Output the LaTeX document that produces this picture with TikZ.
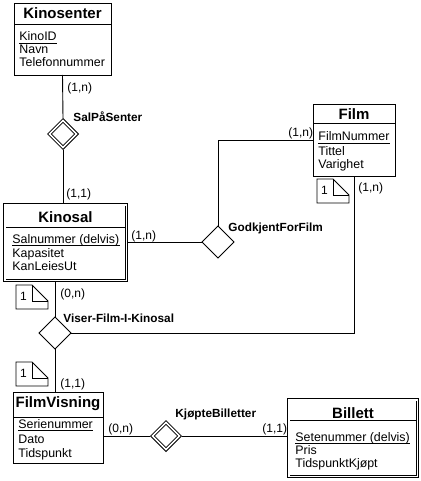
\documentclass[tikz,border=0pt]{standalone}
\usepackage{fontspec}
\setmainfont{Liberation Sans}
\usetikzlibrary{shapes.geometric}
\begin{document}
\begin{tikzpicture}[x=1pt,y=-1pt, line width=0.9pt,
  ent/.style={draw, rectangle, inner sep=0pt, outer sep=0pt},
  weak/.style={draw, double, double distance=1.6pt, rectangle, inner sep=0pt, outer sep=1.7pt},
  rel/.style={draw, diamond, aspect=1, inner sep=0pt, outer sep=0pt, minimum size=32pt},
  wrel/.style={draw, double, double distance=1.6pt, diamond, aspect=1, inner sep=0pt, outer sep=1.7pt, minimum size=28.6pt},
  ttl/.style={font=\fontsize{15}{17}\selectfont\bfseries, anchor=base, inner sep=0pt},
  att/.style={font=\fontsize{12.4}{13}\selectfont, anchor=base west, inner sep=0pt},
  lbl/.style={font=\fontsize{12}{13}\selectfont, anchor=base west, inner sep=0pt},
  rlbl/.style={font=\fontsize{11.8}{13}\selectfont\bfseries, anchor=base west, inner sep=0pt},
  ul/.style={line width=0.8pt},
  notepic/.pic={
    \draw (0,0) -- ++(16,0) -- ++(16,16) -- ++(0,8) -- ++(-32,0) -- cycle;
    \draw (16,0) -- ++(0,16) -- ++(16,0);
    \node[font=\fontsize{12}{13}\selectfont, inner sep=0pt] at (7.5,11.5) {1};
  }
]
\useasboundingbox (0,0) rectangle (420,481);

% ---------- Entities ----------
\node[ent, minimum width=97pt, minimum height=72pt] (kinosenter) at (62.5,39) {};
\node[ttl] (kinosentert) at (62.5,19) {Kinosenter};
\draw (kinosenter.west |- 0,24) -- (kinosenter.east |- 0,24);
\node[att] (k1) at (19,41) {KinoID};
\draw[ul] ([yshift=-2pt]k1.base west) -- ([yshift=-2pt]k1.base east);
\node[att] (k2) at (19,54) {Navn};
\node[att] (k3) at (19,67) {Telefonnummer};

\node[ent, minimum width=82pt, minimum height=72pt] (film) at (354,140) {};
\node[ttl] (filmt) at (354,120) {Film};
\draw (film.west |- 0,123) -- (film.east |- 0,123);
\node[att] (f1) at (318,141) {FilmNummer};
\draw[ul] ([yshift=-2pt]f1.base west) -- ([yshift=-2pt]f1.base east);
\node[att] (f2) at (318,155) {Tittel};
\node[att] (f3) at (318,168) {Varighet};

\node[weak, minimum width=121.6pt, minimum height=75.6pt] (kinosal) at (65.5,242.5) {};
\node[ttl] (kinosalt) at (65.5,222) {Kinosal};
\draw (6,227) -- (125,227);
\node[att] (s1) at (12,243) {Salnummer (delvis)};
\draw[ul] ([yshift=-2pt]s1.base west) -- ([yshift=-2pt]s1.base east);
\node[att] (s2) at (12,257) {Kapasitet};
\node[att] (s3) at (12,270) {KanLeiesUt};

\node[ent, minimum width=90pt, minimum height=71pt] (fv) at (58,427.5) {};
\node[ttl] (fvt) at (58,407) {FilmVisning};
\draw (fv.west |- 0,417) -- (fv.east |- 0,417);
\node[att] (v1) at (18,428) {Serienummer};
\draw[ul] ([yshift=-2pt]v1.base west) -- ([yshift=-2pt]v1.base east);
\node[att] (v2) at (18,443) {Dato};
\node[att] (v3) at (18,457) {Tidspunkt};

\node[weak, minimum width=128.6pt, minimum height=76.6pt] (billett) at (353,438) {};
\node[ttl] (billettt) at (353,418) {Billett};
\draw (290,420) -- (416,420);
\node[att] (b1) at (295,441) {Setenummer (delvis)};
\draw[ul] ([yshift=-2pt]b1.base west) -- ([yshift=-2pt]b1.base east);
\node[att] (b2) at (295,454) {Pris};
\node[att] (b3) at (295,467) {TidspunktKjøpt};

% ---------- Relationships ----------
\node[wrel] (sal) at (63,134) {};
\node[rel] (god) at (218,242) {};
\node[rel] (viser) at (55,333) {};
\node[wrel] (kjopte) at (166,436) {};

% ---------- Connectors ----------
\draw (kinosenter.south) -- (sal.north);
\draw (sal.south) -- (sal.south |- kinosal.north);
\draw (god.west -| kinosal.east) -- (god.west);
\draw (god.north) |- (film.west);
\draw (kinosal.south -| viser.north) -- (viser.north);
\draw (viser.east) -| (film.south);
\draw (viser.south) -- (viser.south |- fv.north);
\draw (kjopte.west -| fv.east) -- (kjopte.west);
\draw (kjopte.east) -- (kjopte.east -| billett.west);

% ---------- Labels ----------
\node[lbl] (l1) at (67,92) {(1,n)};
\node[rlbl] (r1) at (73,122) {SalPåSenter};
\node[lbl] (l2) at (66,197) {(1,1)};
\node[lbl] (l3) at (131,239) {(1,n)};
\node[rlbl] (r2) at (228,231) {GodkjentForFilm};
\node[lbl] (l4) at (288,137) {(1,n)};
\node[lbl] (l5) at (358,191) {(1,n)};
\node[lbl] (l6) at (60,297) {(0,n)};
\node[rlbl] (r3) at (63,322) {Viser-Film-I-Kinosal};
\node[lbl] (l7) at (60,387) {(1,1)};
\node[lbl] (l8) at (108,432) {(0,n)};
\node[rlbl] (r4) at (175,417) {KjøpteBilletter};
\node[lbl] (l9) at (262,432) {(1,1)};

% ---------- Notes ----------
\pic at (317,179) {notepic};
\pic at (16,285) {notepic};
\pic at (16,362) {notepic};
\end{tikzpicture}
\end{document}
